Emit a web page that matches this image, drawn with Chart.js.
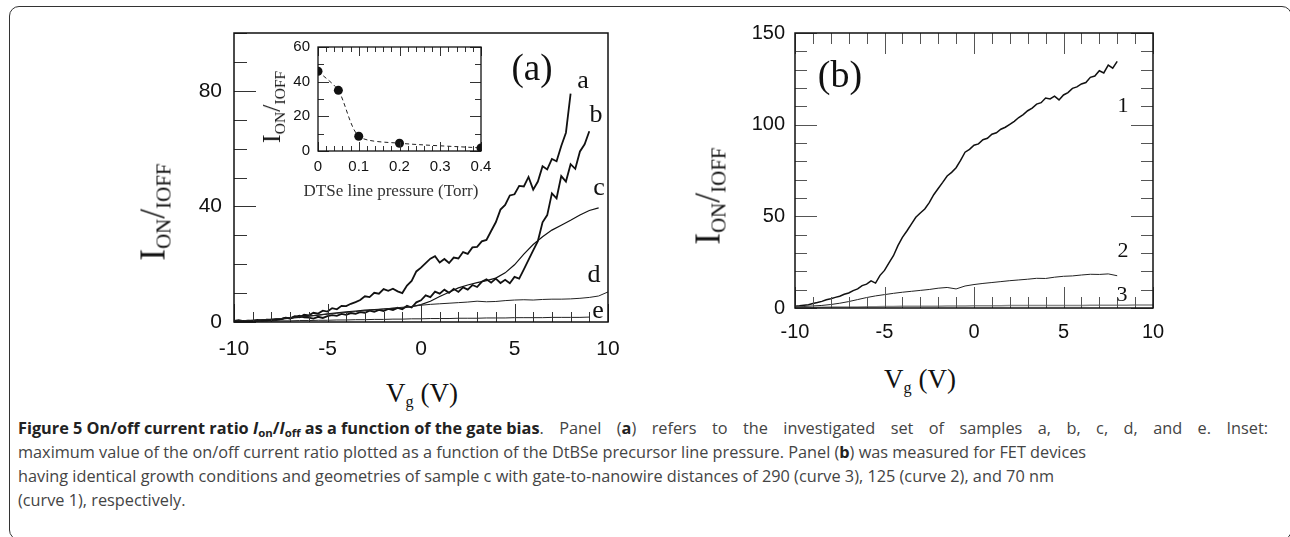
<!DOCTYPE html>
<html>
<head>
<meta charset="utf-8">
<script src="https://cdn.jsdelivr.net/npm/chart.js@4.4.1/dist/chart.umd.min.js"></script>
<style>
  html, body { margin: 0; padding: 0; background: #fff; }
  body { width: 1290px; height: 537px; position: relative; overflow: hidden; }
  .frame { position: absolute; left: 9px; top: 6px; width: 1283px; height: 534px; border: 1.5px solid #333;
           border-radius: 10px; box-sizing: border-box; }
  canvas { position: absolute; }
  .t { position: absolute; transform: translate(-50%, -50%); font-family: 'Liberation Serif', 'DejaVu Serif', serif;
       color: #111; white-space: nowrap; line-height: 1; }
  .rot { transform: translate(-50%, -50%) rotate(-90deg); }
  .t sub { font-size: 0.6em; vertical-align: baseline; position: relative; top: 0.3em; }
  .cap { position: absolute; left: 18px; font-family: 'Open Sans', 'Liberation Sans', sans-serif; font-size: 16.3px;
         color: #444; white-space: nowrap; line-height: 1; }
  .cap.full { width: 1250px; text-align: justify; text-align-last: justify; white-space: normal; }
  .cap .head { display: inline-block; white-space: nowrap; }
  .cap b { color: #222; }
  .cap sub { font-size: 0.7em; vertical-align: baseline; position: relative; top: 0.25em; }
</style>
</head>
<body>
<div class="frame"></div>

<canvas id="chA" width="464" height="350" style="left:160px;top:20px"></canvas>
<canvas id="chIn" width="208" height="142" style="left:285px;top:35px"></canvas>
<canvas id="chB" width="450" height="340" style="left:730px;top:20px"></canvas>

<div class="t rot" style="left:153px;top:212px;font-size:35px">I<sub>ON</sub>/<sub>IOFF</sub></div>
<div class="t" style="left:422px;top:393px;font-size:27px">V<sub>g</sub> (V)</div>
<div class="t rot" style="left:272px;top:107px;font-size:26px">I<sub>ON</sub>/<sub>IOFF</sub></div>
<div class="t" style="left:391px;top:190px;font-size:17px;color:#333">DTSe line pressure (Torr)</div>
<div class="t" style="left:532px;top:67px;font-size:37px">(a)</div>
<div class="t" style="left:583px;top:80px;font-size:26px">a</div>
<div class="t" style="left:596px;top:114px;font-size:26px">b</div>
<div class="t" style="left:599px;top:187px;font-size:26px">c</div>
<div class="t" style="left:594px;top:274px;font-size:26px">d</div>
<div class="t" style="left:598px;top:310px;font-size:26px">e</div>

<div class="t rot" style="left:708px;top:196px;font-size:35px">I<sub>ON</sub>/<sub>IOFF</sub></div>
<div class="t" style="left:920px;top:379px;font-size:27px">V<sub>g</sub> (V)</div>
<div class="t" style="left:840px;top:74px;font-size:38px">(b)</div>
<div class="t" style="left:1123px;top:105px;font-size:22px">1</div>
<div class="t" style="left:1123px;top:250px;font-size:22px">2</div>
<div class="t" style="left:1122px;top:294px;font-size:22px">3</div>

<div class="cap full" style="top:420px"><span class="head"><b>Figure 5 On/off current ratio <i>I</i><sub>on</sub>/<i>I</i><sub>off</sub> as a function of the gate bias</b>.</span> Panel (<b>a</b>) refers to the investigated set of samples a, b, c, d, and e. Inset:</div>
<div class="cap" style="top:444px">maximum value of the on/off current ratio plotted as a function of the DtBSe precursor line pressure. Panel (<b>b</b>) was measured for FET devices</div>
<div class="cap" style="top:468px">having identical growth conditions and geometries of sample c with gate-to-nanowire distances of 290 (curve 3), 125 (curve 2), and 70 nm</div>
<div class="cap" style="top:492px">(curve 1), respectively.</div>

<script>
// Gate-Spannungsraster (V)
var VG_Q = [-10, -9.75, -9.5, -9.25, -9, -8.75, -8.5, -8.25, -8, -7.75, -7.5, -7.25, -7, -6.75, -6.5, -6.25,
  -6, -5.75, -5.5, -5.25, -5, -4.75, -4.5, -4.25, -4, -3.75, -3.5, -3.25, -3, -2.75, -2.5, -2.25, -2, -1.75,
  -1.5, -1.25, -1, -0.75, -0.5, -0.25, 0, 0.25, 0.5, 0.75, 1, 1.25, 1.5, 1.75, 2, 2.25, 2.5, 2.75, 3, 3.25,
  3.5, 3.75, 4, 4.25, 4.5, 4.75, 5, 5.25, 5.5, 5.75, 6, 6.25, 6.5, 6.75, 7, 7.25, 7.5, 7.75, 8, 8.25, 8.5,
  8.75, 9, 9.25, 9.5, 9.75, 10];
var VG_H = [-10, -9.5, -9, -8.5, -8, -7.5, -7, -6.5, -6, -5.5, -5, -4.5, -4, -3.5, -3, -2.5, -2, -1.5, -1, -0.5,
  0, 0.5, 1, 1.5, 2, 2.5, 3, 3.5, 4, 4.5, 5, 5.5, 6, 6.5, 7, 7.5, 8, 8.5, 9, 9.5, 10];

// Panel (a): Proben a-e, ION/IOFF
var SAMPLE_A = [0.4, 0.6, 0.3, 0.5, 0.4, 0.7, 0.5, 0.8, 0.6, 1.0,
  0.9, 1.5, 1.3, 2.0, 1.6, 2.5, 2.3, 3.2, 2.9, 3.9,
  3.6, 4.8, 4.4, 5.6, 5.5, 6.3, 6.9, 7.6, 8.9, 8.6,
  10.1, 9.8, 11.4, 10.8, 11.5, 10.6, 10.0, 12.6, 14.2, 17.5,
  18.8, 20.4, 21.9, 22.8, 20.6, 21.8, 20.4, 22.3, 22.0, 24.2,
  23.6, 25.8, 26.0, 27.9, 28.4, 31.5, 34.5, 38.9, 40.5, 43.8,
  44.2, 47.1, 46.9, 50.2, 45.8, 48.6, 53.9, 52.8, 56.4, 55.6,
  60.9, 65.5, 79.0];
var SAMPLE_B = [0.3, 0.2, 0.4, 0.3, 0.5, 0.4, 0.6, 0.5, 0.8, 0.7,
  1.0, 1.4, 1.2, 1.8, 2.2, 1.6, 1.5, 1.2, 1.8, 1.4,
  2.0, 2.4, 2.1, 2.8, 2.5, 3.1, 2.8, 3.4, 3.2, 3.9,
  3.5, 4.2, 3.8, 4.5, 4.1, 4.9, 4.4, 5.6, 5.0, 6.8,
  7.5, 9.2, 8.6, 10.5, 9.8, 11.2, 10.1, 11.5, 10.4, 12.0,
  11.2, 12.8, 12.1, 13.9, 14.8, 13.6, 15.0, 13.5, 14.6, 13.4,
  15.6, 15.0, 18.2, 21.5, 24.8, 28.0, 34.5, 37.0, 44.5, 42.8,
  50.5, 48.6, 54.6, 53.0, 59.0, 61.5, 66.0];
var SAMPLE_C = [0.3, 0.4, 0.5, 0.6, 0.8, 1.0, 1.3, 1.6, 2.0, 2.4, 2.8, 3.2, 3.5, 3.8, 4.1, 4.3, 4.5, 4.7, 4.9, 5.3,
  6.0, 7.2, 8.8, 10.3, 11.8, 12.8, 13.6, 14.3, 15.2, 17.0, 19.8, 23.5, 26.8, 29.5, 31.8, 33.5, 35.2, 37.0, 38.6, 39.5];
var SAMPLE_D = [0.4, 0.5, 0.6, 0.8, 1.0, 1.2, 1.5, 1.8, 2.1, 2.4, 2.7, 3.0, 3.3, 3.6, 3.9, 4.2, 4.5, 4.8, 5.1, 5.4,
  5.8, 6.1, 6.3, 6.5, 6.7, 6.9, 7.2, 7.0, 7.1, 7.4, 7.6, 7.7, 7.6, 7.8, 7.9, 7.9, 8.0, 8.2, 8.5, 9.0, 10.4];
var SAMPLE_E = [0.2, 0.2, 0.3, 0.3, 0.3, 0.4, 0.4, 0.5, 0.5, 0.6, 0.6, 0.7, 0.7, 0.8, 0.8, 0.9, 0.9, 1.0, 1.0, 1.1,
  1.1, 1.2, 1.2, 1.2, 1.3, 1.3, 1.3, 1.4, 1.4, 1.4, 1.5, 1.5, 1.5, 1.5, 1.6, 1.6, 1.6, 1.6, 1.7];

// Inset: Maximalwert über DTSe-Leitungsdruck
var PRESSURE = [0, 0.05, 0.1, 0.2, 0.4];
var MAX_RATIO = [46, 35, 8.5, 4.5, 1.8];

// Panel (b): Kurven 1-3 (Gate-Abstand 70, 125, 290 nm)
var CURVE_1 = [1.0, 1.2, 1.5, 1.8, 2.5, 3.0, 3.6, 4.5, 5.0, 5.8,
  6.4, 7.5, 8.2, 9.5, 10.4, 12.2, 13.0, 14.8, 13.6, 17.8,
  20.5, 24.6, 28.5, 34.0, 38.5, 42.0, 45.8, 49.5, 51.8, 54.0,
  57.5, 61.8, 65.2, 68.5, 72.0, 74.0, 76.5, 80.5, 85.0, 86.5,
  88.8, 89.5, 91.8, 92.6, 94.8, 95.6, 97.5, 98.6, 100.2, 101.8,
  103.9, 105.5, 107.6, 109.0, 111.2, 112.0, 114.5, 114.0, 115.6, 113.5,
  116.2, 117.5, 119.8, 120.6, 122.2, 123.0, 125.8, 126.5, 129.4, 128.2,
  132.5, 130.8, 134.5];
var CURVE_2 = [0.6, 0.8, 1.1, 1.4, 1.9, 2.6, 3.5, 4.6, 5.7, 6.6, 7.3, 8.0, 8.6, 9.1, 9.6, 10.1, 10.8, 11.2, 10.4,
  12.0, 12.8, 13.4, 13.9, 14.4, 14.9, 15.3, 15.7, 16.2, 16.1, 16.8, 17.3, 17.5, 18.0, 18.4, 18.3, 18.6, 17.6];
var CURVE_3 = [0.3, 0.3, 0.4, 0.4, 0.5, 0.5, 0.6, 0.6, 0.7, 0.7, 0.8, 0.8, 0.9, 0.9, 1.0, 1.0, 1.0, 1.1, 1.1, 1.1,
  1.2, 1.2, 1.2, 1.2, 1.3, 1.3, 1.3, 1.3, 1.4, 1.4, 1.4, 1.4, 1.4, 1.5, 1.5, 1.5, 1.5, 1.5, 1.6, 1.6, 1.6];

// beschriftete Ticks
var A_X_LABELS = [-10, -5, 0, 5, 10];
var A_Y_LABELS = [0, 40, 80];
var B_X_LABELS = [-10, -5, 0, 5, 10];
var B_Y_LABELS = [0, 50, 100, 150];
var IN_X_LABELS = [0, 0.1, 0.2, 0.3, 0.4];
var IN_Y_LABELS = [0, 20, 40, 60];

function pts(xs, ys) { return ys.map(function (y, i) { return { x: xs[i], y: y }; }); }

function labelIf(list, fmt) {
  return function (v) {
    for (var i = 0; i < list.length; i++) if (Math.abs(list[i] - v) < 1e-6) return fmt ? fmt(list[i]) : String(list[i]);
    return '';
  };
}

// Rahmen + nach innen zeigende Ticks
var frameTicks = {
  id: 'frameTicks',
  afterDatasetsDraw: function (chart, args, o) {
    var ctx = chart.ctx, a = chart.chartArea;
    ctx.save();
    ctx.strokeStyle = o.color || '#333';
    ctx.lineWidth = 1;
    var sx = chart.scales.x, sy = chart.scales.y;
    sx.ticks.forEach(function (t) {
      var p = Math.round(sx.getPixelForValue(t.value)) + 0.5;
      var len = t.label !== '' ? o.xMajor : o.xMinor;
      ctx.beginPath();
      ctx.moveTo(p, a.bottom); ctx.lineTo(p, a.bottom - len);
      if (o.mirror) { ctx.moveTo(p, a.top); ctx.lineTo(p, a.top + len); }
      ctx.stroke();
    });
    sy.ticks.forEach(function (t) {
      var p = Math.round(sy.getPixelForValue(t.value)) + 0.5;
      var len = t.label !== '' ? o.yMajor : o.yMinor;
      ctx.beginPath();
      ctx.moveTo(a.left, p); ctx.lineTo(a.left + len, p);
      if (o.mirror) { ctx.moveTo(a.right, p); ctx.lineTo(a.right - len, p); }
      ctx.stroke();
    });
    ctx.strokeStyle = '#111';
    ctx.lineWidth = o.border || 1.5;
    ctx.strokeRect(a.left, a.top, a.right - a.left, a.bottom - a.top);
    ctx.restore();
  }
};

// feste Achsbreiten, damit die Plotfläche genau sitzt
function axis(min, max, step, labels, fontSize, pad, fit, horizontal, fmt) {
  return {
    type: 'linear', min: min, max: max,
    grid: { display: false, drawTicks: false },
    border: { display: false },
    ticks: {
      stepSize: step, autoSkip: false, maxRotation: 0, padding: pad,
      color: '#111', font: { family: 'Liberation Sans, Arial, sans-serif', size: fontSize },
      callback: labelIf(labels, fmt)
    },
    afterFit: function (s) {
      if (horizontal) { s.height = fit; s.paddingLeft = 0; s.paddingRight = 0; }
      else { s.width = fit; s.paddingTop = 0; s.paddingBottom = 0; }
    }
  };
}

function line(xs, ys, w, color) {
  return { data: pts(xs, ys), showLine: true, borderColor: color || '#111', borderWidth: w, pointRadius: 0, tension: 0 };
}

Chart.defaults.animation = false;
Chart.defaults.plugins.legend.display = false;
Chart.defaults.plugins.tooltip.enabled = false;

new Chart(document.getElementById('chA'), {
  type: 'scatter',
  data: {
    datasets: [
      line(VG_H, SAMPLE_E, 1, '#222'),
      line(VG_H, SAMPLE_D, 1, '#222'),
      line(VG_H, SAMPLE_C, 1.2, '#111'),
      line(VG_Q, SAMPLE_B, 1.8, '#111'),
      line(VG_Q, SAMPLE_A, 1.8, '#111')
    ]
  },
  options: {
    responsive: false,
    layout: { padding: { left: 0, right: 16, top: 13, bottom: 0 } },
    scales: {
      x: axis(-10, 10, 1, A_X_LABELS, 21, 15, 48, true),
      y: axis(0, 100, 10, A_Y_LABELS, 21, 12, 74, false)
    },
    plugins: { frameTicks: { xMajor: 18, xMinor: 10, yMajor: 22, yMinor: 13, mirror: false, border: 1.5 } }
  },
  plugins: [frameTicks]
});

new Chart(document.getElementById('chIn'), {
  type: 'scatter',
  data: {
    datasets: [{
      data: pts(PRESSURE, MAX_RATIO), showLine: true, clip: 0,
      borderColor: '#222', borderWidth: 1, borderDash: [4, 3], tension: 0.25,
      pointRadius: 4.5, pointBackgroundColor: '#111', pointBorderColor: '#111', pointBorderWidth: 0
    }]
  },
  options: {
    responsive: false,
    layout: { padding: { left: 0, right: 12, top: 12, bottom: 0 } },
    scales: {
      x: axis(0, 0.4, 0.02, IN_X_LABELS, 15, 7, 26, true, function (v) { return v === 0 ? '0' : v.toFixed(1); }),
      y: axis(0, 60, 10, IN_Y_LABELS, 15, 8, 33, false)
    },
    plugins: { frameTicks: { xMajor: 9, xMinor: 5, yMajor: 11, yMinor: 6, mirror: true, border: 1.3 } }
  },
  plugins: [frameTicks]
});

new Chart(document.getElementById('chB'), {
  type: 'scatter',
  data: {
    datasets: [
      line(VG_H, CURVE_3, 1.5, '#888'),
      line(VG_H, CURVE_2, 1, '#222'),
      line(VG_Q, CURVE_1, 1.5, '#111')
    ]
  },
  options: {
    responsive: false,
    layout: { padding: { left: 0, right: 27, top: 13, bottom: 0 } },
    scales: {
      x: axis(-10, 10, 1, B_X_LABELS, 20, 12, 52, true),
      y: axis(0, 150, 10, B_Y_LABELS, 20, 10, 65, false)
    },
    plugins: { frameTicks: { xMajor: 21, xMinor: 11, yMajor: 22, yMinor: 12, mirror: true, border: 1.5, color: '#555' } }
  },
  plugins: [frameTicks]
});
</script>
</body>
</html>
